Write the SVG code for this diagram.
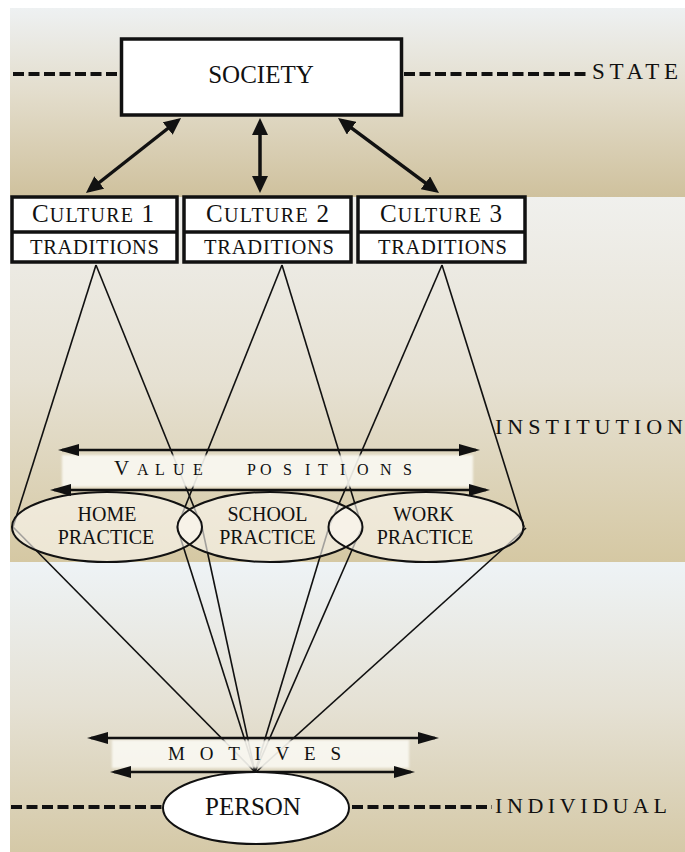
<svg xmlns="http://www.w3.org/2000/svg" width="685" height="852" viewBox="0 0 685 852">
<style>
.serif{font-family:"Liberation Serif","Times New Roman",serif;fill:#111;}
.box{fill:#fff;stroke:#111;stroke-width:3.5;}
.div{stroke:#111;stroke-width:3.5;}
.dash{stroke:#111;stroke-width:4;stroke-dasharray:11 4.5;fill:none;}
.ln{stroke:#111;stroke-width:1.6;fill:none;}
.arw{stroke:#111;stroke-width:3.5;fill:none;marker-start:url(#big);marker-end:url(#big);}
.sarw{stroke:#111;stroke-width:2.5;fill:none;marker-start:url(#small);marker-end:url(#small);}
.pfill{fill:#fbf9f2;fill-opacity:0.62;}
.pout{fill:none;stroke:#111;stroke-width:2;}
.band{fill:#f9f8f2;fill-opacity:0.9;filter:url(#soft);}
</style>
<defs>
<linearGradient id="g1" x1="0" y1="0" x2="0" y2="1">
<stop offset="0" stop-color="#eef1f2"/><stop offset="0.45" stop-color="#e3ddcc"/><stop offset="1" stop-color="#cfc19d"/>
</linearGradient>
<linearGradient id="g2" x1="0" y1="0" x2="0" y2="1">
<stop offset="0" stop-color="#f0f0ed"/><stop offset="0.5" stop-color="#e6e1d3"/><stop offset="1" stop-color="#d5c8a3"/>
</linearGradient>
<linearGradient id="g3" x1="0" y1="0" x2="0" y2="1">
<stop offset="0" stop-color="#eef3f6"/><stop offset="0.5" stop-color="#e5e1d4"/><stop offset="1" stop-color="#d5c9a7"/>
</linearGradient>
<marker id="big" markerUnits="userSpaceOnUse" markerWidth="18" markerHeight="16" refX="13" refY="8" orient="auto-start-reverse">
<path d="M0,0 L17,8 L0,16 z" fill="#111"/>
</marker>
<marker id="small" markerUnits="userSpaceOnUse" markerWidth="22" markerHeight="12" refX="17" refY="6" orient="auto-start-reverse">
<path d="M0,0 L21,6 L0,12 z" fill="#111"/>
</marker>
<filter id="soft" x="-5%" y="-20%" width="110%" height="140%"><feGaussianBlur stdDeviation="1.3"/></filter>
</defs>
<rect x="0" y="0" width="685" height="852" fill="#fff"/>
<g id="background">
<rect x="10" y="8" width="675" height="189" fill="url(#g1)"/>
<rect x="10" y="197" width="675" height="365" fill="url(#g2)"/>
<rect x="10" y="562" width="675" height="290" fill="url(#g3)"/>
</g>
<g id="levels">
<line class="dash" x1="13" y1="74" x2="119" y2="74"/>
<line class="dash" x1="404" y1="74" x2="588" y2="74"/>
<text class="serif" x="592" y="79" font-size="23" textLength="86" lengthAdjust="spacing">STATE</text>
<text class="serif" x="495" y="434" font-size="22" textLength="188" lengthAdjust="spacing">INSTITUTION</text>
<line class="dash" x1="11" y1="807" x2="162" y2="807"/>
<line class="dash" x1="352" y1="807" x2="492" y2="807"/>
<text class="serif" x="495" y="813" font-size="22" textLength="172" lengthAdjust="spacing">INDIVIDUAL</text>
</g>
<g id="connectors">
<line class="arw" x1="177.9" y1="120.5" x2="89.1" y2="190.5"/>
<line class="arw" x1="260" y1="122" x2="260" y2="189"/>
<line class="arw" x1="341.2" y1="120.4" x2="435.8" y2="190.6"/>
<line class="ln" x1="96" y1="265" x2="13" y2="527"/>
<line class="ln" x1="96" y1="265" x2="202" y2="527"/>
<line class="ln" x1="282" y1="265" x2="177" y2="527"/>
<line class="ln" x1="282" y1="265" x2="362" y2="527"/>
<line class="ln" x1="442" y1="265" x2="329" y2="527"/>
<line class="ln" x1="442" y1="265" x2="524" y2="527"/>
<line class="ln" x1="13" y1="527" x2="255" y2="772"/>
<line class="ln" x1="177" y1="527" x2="255" y2="772"/>
<line class="ln" x1="202" y1="527" x2="255" y2="772"/>
<line class="ln" x1="329" y1="527" x2="255" y2="772"/>
<line class="ln" x1="362" y1="527" x2="255" y2="772"/>
<line class="ln" x1="526" y1="528" x2="256" y2="772"/>
</g>
<g id="practice-fills">
<ellipse class="pfill" cx="107" cy="527" rx="95" ry="35"/>
<ellipse class="pfill" cx="270" cy="527" rx="92.5" ry="35"/>
<ellipse class="pfill" cx="426" cy="527" rx="97.5" ry="35"/>
</g>
<g id="society">
<rect class="box" x="121.5" y="39" width="280" height="76"/>
<text class="serif" x="261" y="83" font-size="25" text-anchor="middle">SOCIETY</text>
</g>
<g id="culture1">
<rect class="box" x="12" y="197" width="165" height="65"/>
<line class="div" x1="12" y1="232" x2="177" y2="232"/>
<text class="serif" x="93" y="222" text-anchor="middle" textLength="122" lengthAdjust="spacing"><tspan font-size="25">C</tspan><tspan font-size="20">ULTURE</tspan><tspan font-size="25"> 1</tspan></text>
<text class="serif" x="94.5" y="254" font-size="20.5" text-anchor="middle" textLength="129" lengthAdjust="spacing">TRADITIONS</text>
</g>
<g id="culture2">
<rect class="box" x="184" y="197" width="167" height="65"/>
<line class="div" x1="184" y1="232" x2="351" y2="232"/>
<text class="serif" x="267.5" y="222" text-anchor="middle" textLength="123" lengthAdjust="spacing"><tspan font-size="25">C</tspan><tspan font-size="20">ULTURE</tspan><tspan font-size="25"> 2</tspan></text>
<text class="serif" x="269" y="254" font-size="20.5" text-anchor="middle" textLength="130" lengthAdjust="spacing">TRADITIONS</text>
</g>
<g id="culture3">
<rect class="box" x="358" y="197" width="167" height="65"/>
<line class="div" x1="358" y1="232" x2="525" y2="232"/>
<text class="serif" x="441" y="222" text-anchor="middle" textLength="122" lengthAdjust="spacing"><tspan font-size="25">C</tspan><tspan font-size="20">ULTURE</tspan><tspan font-size="25"> 3</tspan></text>
<text class="serif" x="442.5" y="254" font-size="20.5" text-anchor="middle" textLength="129" lengthAdjust="spacing">TRADITIONS</text>
</g>
<g id="value-positions">
<rect class="band" x="62" y="455" width="411" height="32"/>
<line class="sarw" x1="62" y1="450" x2="476" y2="450"/>
<line class="sarw" x1="54" y1="490" x2="486" y2="490"/>
<text class="serif" y="475"><tspan font-size="21" x="114">V</tspan><tspan font-size="16" x="137 155 173 193">ALUE</tspan><tspan font-size="16" x="247 260 283 305 318 340 357 380 403">POSITIONS</tspan></text>
</g>
<g id="home-practice">
<ellipse class="pout" cx="107" cy="527" rx="95" ry="35"/>
<text class="serif" x="107" y="521" font-size="20" text-anchor="middle">HOME</text>
<text class="serif" x="106" y="544" font-size="20" text-anchor="middle">PRACTICE</text>
</g>
<g id="school-practice">
<ellipse class="pout" cx="270" cy="527" rx="92.5" ry="35"/>
<text class="serif" x="267.5" y="521" font-size="20" text-anchor="middle">SCHOOL</text>
<text class="serif" x="267.5" y="544" font-size="20" text-anchor="middle">PRACTICE</text>
</g>
<g id="work-practice">
<ellipse class="pout" cx="426" cy="527" rx="97.5" ry="35"/>
<text class="serif" x="423.5" y="521" font-size="20" text-anchor="middle">WORK</text>
<text class="serif" x="425" y="544" font-size="20" text-anchor="middle">PRACTICE</text>
</g>
<g id="motives">
<rect class="band" x="112" y="740" width="297" height="28"/>
<line class="sarw" x1="91" y1="738" x2="435" y2="738"/>
<line class="sarw" x1="114" y1="772" x2="411" y2="772"/>
<text class="serif" x="168" y="760" font-size="19" textLength="173" lengthAdjust="spacing">MOTIVES</text>
</g>
<g id="person">
<ellipse cx="256" cy="808" rx="93" ry="36" fill="#fff" stroke="#111" stroke-width="2"/>
<text class="serif" x="253" y="815" font-size="25" text-anchor="middle">PERSON</text>
</g>
</svg>
